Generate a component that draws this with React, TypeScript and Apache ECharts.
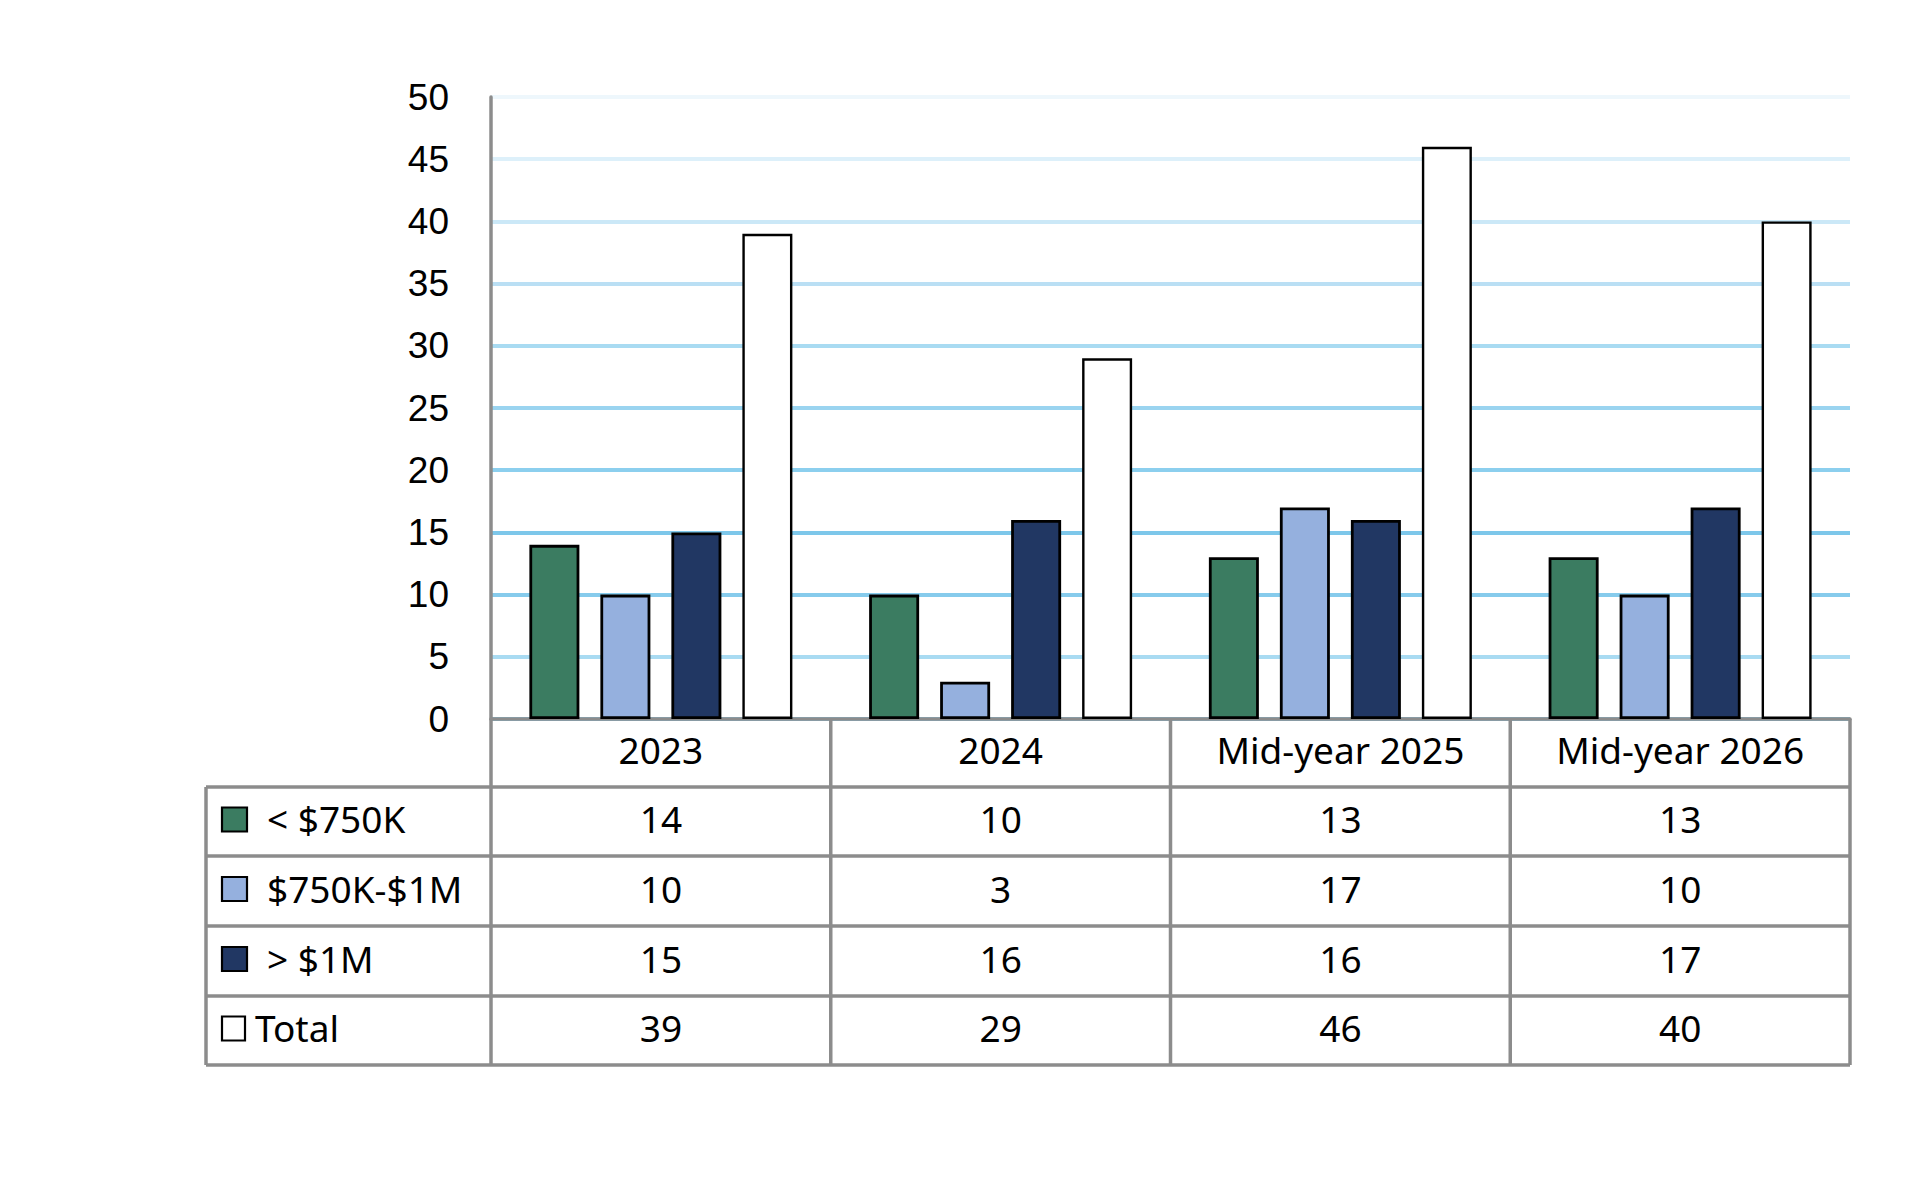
import React, { useEffect, useRef } from "react";
import * as echarts from "echarts";

const categories = ["2023", "2024", "Mid-year 2025", "Mid-year 2026"];
const seriesNames = ["< $750K", "$750K-$1M", "> $1M", "Total"];
const under750K = [14, 10, 13, 13];
const between750K1M = [10, 3, 17, 10];
const over1M = [15, 16, 16, 17];
const totals = [39, 29, 46, 40];
const yTicks = { min: 0, max: 50, interval: 5 };

const seriesData = [under750K, between750K1M, over1M, totals];
const seriesColors = ["#3b7c61", "#95b0de", "#213763", "#ffffff"];
const borderWidths = [2.8, 2.8, 2.8, 2.4];
const gridColors = [
  "#7fc8ea",
  "#a9dbf2",
  "#86cbec",
  "#7dc7ea",
  "#8ccfee",
  "#9ad4f0",
  "#a9dbf2",
  "#badff4",
  "#cbe8f7",
  "#ddf0fa",
  "#eef7fc",
];

const TABLE_FONT = "'Noto Sans', 'Open Sans', sans-serif";
const AXIS_FONT = "'Liberation Sans', Arial, sans-serif";
const LINE_COLOR = "#8c8c8c";

export default function App() {
  const ref = useRef<HTMLDivElement>(null);

  useEffect(() => {
    if (!ref.current) return;
    const chart = echarts.init(ref.current, undefined, { renderer: "svg" });
    const option: any = {
      animation: false,
      backgroundColor: "#ffffff",
      grid: { left: 491, right: 70, top: 97, bottom: 485, containLabel: false },
      xAxis: {
        type: "category",
        data: categories,
        axisLine: { show: true, lineStyle: { color: LINE_COLOR, width: 3.5 } },
        axisTick: { show: false },
        axisLabel: {
          fontFamily: TABLE_FONT,
          fontSize: 37,
          color: "#000",
          margin: 30,
          verticalAlign: "middle",
          interval: 0,
        },
        splitLine: { show: false },
      },
      yAxis: {
        type: "value",
        min: yTicks.min,
        max: yTicks.max,
        interval: yTicks.interval,
        axisLine: { show: true, lineStyle: { color: LINE_COLOR, width: 3.5 } },
        axisTick: { show: false },
        axisLabel: {
          fontFamily: AXIS_FONT,
          fontSize: 37,
          color: "#000",
          margin: 42,
        },
        splitLine: { show: true, lineStyle: { color: gridColors, width: 4 } },
      },
      series: seriesData.map((d, i) => ({
        name: seriesNames[i],
        type: "bar",
        data: d,
        barWidth: 50,
        barGap: "42%",
        itemStyle: {
          color: seriesColors[i],
          borderColor: "#000",
          borderWidth: borderWidths[i],
        },
      })),
    };
    chart.setOption(option);

    const centers = categories.map(
      (c) => chart.convertToPixel({ xAxisIndex: 0 }, c) as number
    );
    const step = centers[1] - centers[0];
    const bounds = [centers[0] - step / 2, ...centers.map((c) => c + step / 2)];
    const tableLeft = 206;
    const axisY = 719;
    const rowLines = [787, 856, 926, 996, 1065];
    const bottom = rowLines[rowLines.length - 1];

    const g: any[] = [];
    rowLines.forEach((y) => {
      g.push({
        type: "line",
        shape: { x1: tableLeft, y1: y, x2: bounds[bounds.length - 1], y2: y },
        style: { stroke: LINE_COLOR, lineWidth: 3.5 },
        z: 10,
      });
    });
    g.push({
      type: "line",
      shape: { x1: tableLeft, y1: rowLines[0], x2: tableLeft, y2: bottom },
      style: { stroke: LINE_COLOR, lineWidth: 3.5 },
      z: 10,
    });
    bounds.forEach((x) => {
      g.push({
        type: "line",
        shape: { x1: x, y1: axisY, x2: x, y2: bottom },
        style: { stroke: LINE_COLOR, lineWidth: 3.5 },
        z: 10,
      });
    });
    for (let r = 0; r < seriesNames.length; r++) {
      const cy = (rowLines[r] + rowLines[r + 1]) / 2 - 3;
      const isTotal = r === 3;
      g.push({
        type: "rect",
        shape: { x: 222, y: cy - 11, width: isTotal ? 23 : 25, height: 24 },
        style: { fill: seriesColors[r], stroke: "#000", lineWidth: 2.2 },
        z: 11,
      });
      g.push({
        type: "text",
        x: isTotal ? 255 : 267,
        y: cy,
        style: {
          text: seriesNames[r],
          fontFamily: TABLE_FONT,
          fontSize: 37,
          fill: "#000",
          align: "left",
          verticalAlign: "middle",
        },
        z: 11,
      });
      seriesData[r].forEach((v, i) => {
        g.push({
          type: "text",
          x: centers[i],
          y: cy,
          style: {
            text: String(v),
            fontFamily: TABLE_FONT,
            fontSize: 37,
            fill: "#000",
            align: "center",
            verticalAlign: "middle",
          },
          z: 11,
        });
      });
    }
    chart.setOption({ graphic: g });

    return () => chart.dispose();
  }, []);

  return (
    <div
      ref={ref}
      style={{ position: "fixed", left: 0, top: 0, width: 1920, height: 1204 }}
    />
  );
}
